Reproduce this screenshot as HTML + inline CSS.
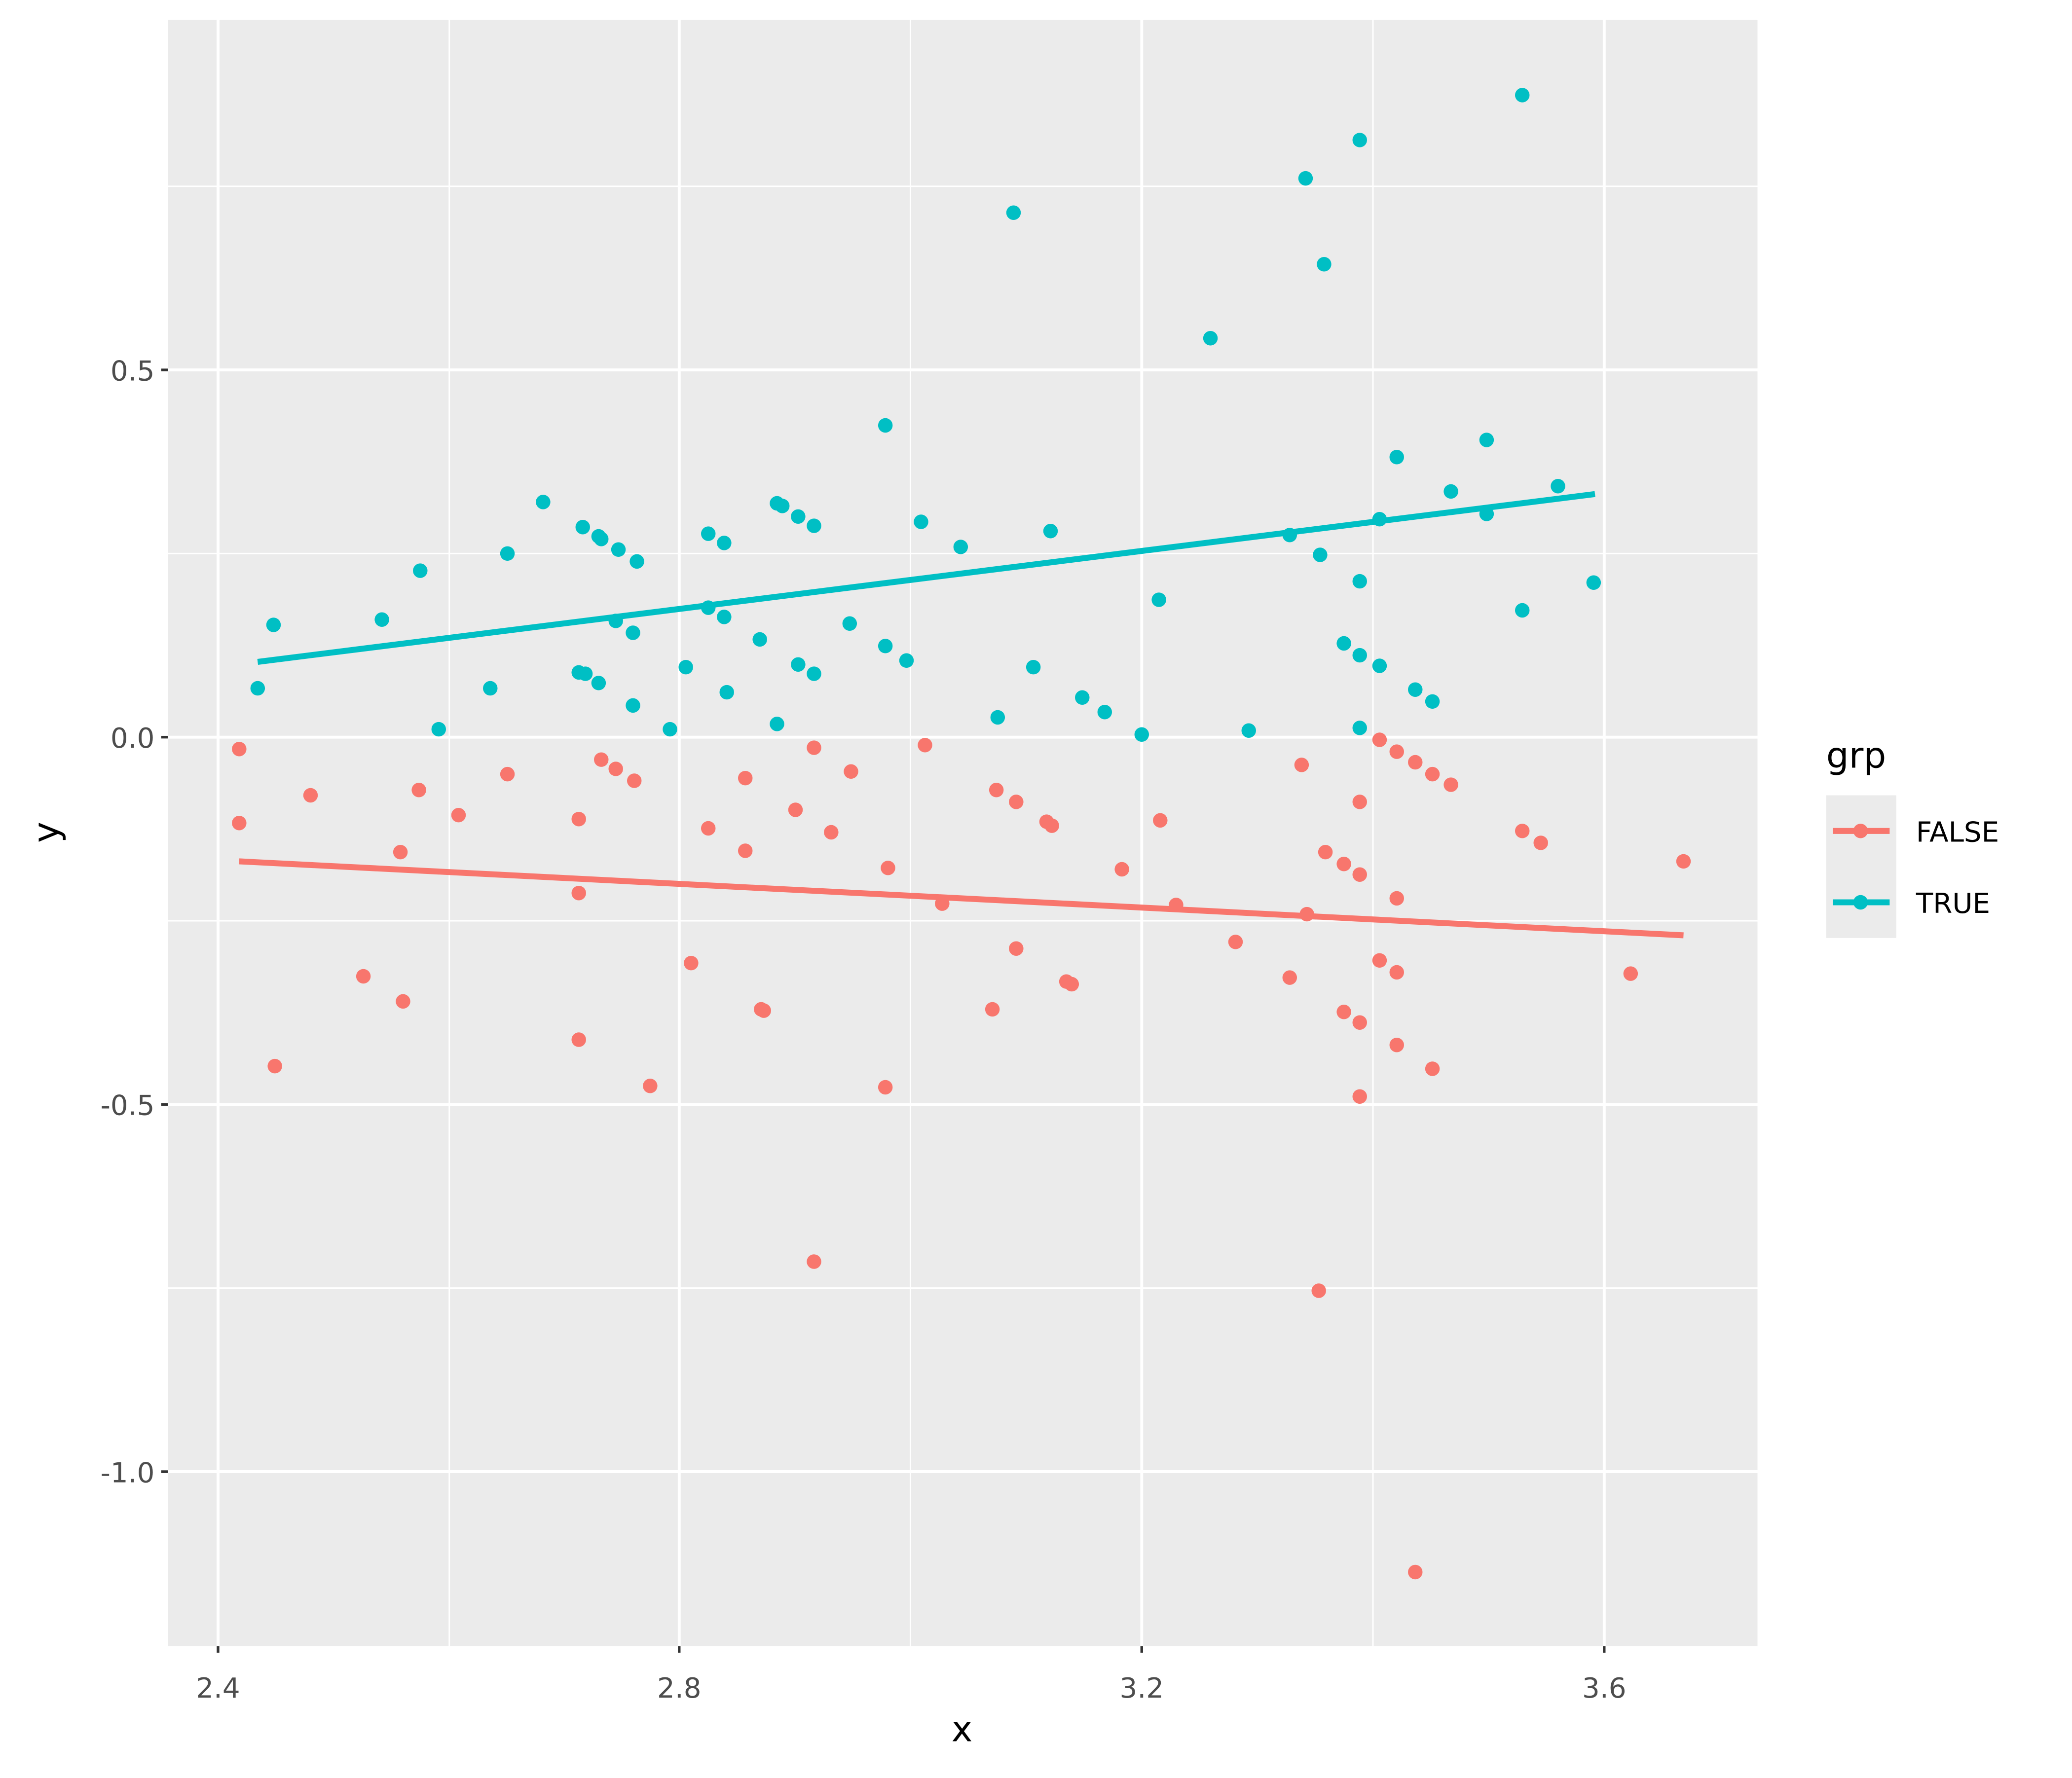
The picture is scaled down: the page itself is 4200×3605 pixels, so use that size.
<!DOCTYPE html>
<html><head><meta charset="utf-8"><style>html,body{margin:0;padding:0;background:#fff}</style></head>
<body>
<svg xmlns="http://www.w3.org/2000/svg" width="4200" height="3600" viewBox="0 0 1568 1344" font-family="DejaVu Sans, Liberation Sans, sans-serif">
<rect width="1568" height="1344" fill="#fff"/>
<rect x="127" y="15" width="1203" height="1231" fill="#ebebeb"/>
<g stroke="#fff" stroke-width="1.1">
<line x1="127" x2="1330" y1="141" y2="141"/><line x1="127" x2="1330" y1="419" y2="419"/><line x1="127" x2="1330" y1="697" y2="697"/><line x1="127" x2="1330" y1="975" y2="975"/>
<line y1="15" y2="1246" x1="340" x2="340"/><line y1="15" y2="1246" x1="689" x2="689"/><line y1="15" y2="1246" x1="1039" x2="1039"/>
</g>
<g stroke="#fff" stroke-width="2.2">
<line x1="127" x2="1330" y1="280" y2="280"/><line x1="127" x2="1330" y1="558" y2="558"/><line x1="127" x2="1330" y1="836" y2="836"/><line x1="127" x2="1330" y1="1114" y2="1114"/>
<line y1="15" y2="1246" x1="165" x2="165"/><line y1="15" y2="1246" x1="514" x2="514"/><line y1="15" y2="1246" x1="864" x2="864"/><line y1="15" y2="1246" x1="1214" x2="1214"/>
</g>
<g fill="#00bfc4">
<circle cx="1152" cy="72" r="5.5"/><circle cx="1029" cy="106" r="5.5"/><circle cx="988" cy="135" r="5.5"/><circle cx="767" cy="161" r="5.5"/><circle cx="1002" cy="200" r="5.5"/><circle cx="916" cy="256" r="5.5"/><circle cx="670" cy="322" r="5.5"/><circle cx="1057" cy="346" r="5.5"/><circle cx="1125" cy="333" r="5.5"/><circle cx="1098" cy="372" r="5.5"/><circle cx="1179" cy="368" r="5.5"/><circle cx="411" cy="380" r="5.5"/><circle cx="588" cy="381" r="5.5"/><circle cx="592" cy="383" r="5.5"/><circle cx="604" cy="391" r="5.5"/><circle cx="616" cy="398" r="5.5"/><circle cx="697" cy="395" r="5.5"/><circle cx="1044" cy="393" r="5.5"/><circle cx="1125" cy="389" r="5.5"/><circle cx="441" cy="399" r="5.5"/><circle cx="453" cy="406" r="5.5"/><circle cx="455" cy="408" r="5.5"/><circle cx="468" cy="416" r="5.5"/><circle cx="482" cy="425" r="5.5"/><circle cx="536" cy="404" r="5.5"/><circle cx="548" cy="411" r="5.5"/><circle cx="727" cy="414" r="5.5"/><circle cx="795" cy="402" r="5.5"/><circle cx="976" cy="405" r="5.5"/><circle cx="999" cy="420" r="5.5"/><circle cx="318" cy="432" r="5.5"/><circle cx="384" cy="419" r="5.5"/><circle cx="1029" cy="440" r="5.5"/><circle cx="1206" cy="441" r="5.5"/><circle cx="877" cy="454" r="5.5"/><circle cx="207" cy="473" r="5.5"/><circle cx="289" cy="469" r="5.5"/><circle cx="466" cy="470" r="5.5"/><circle cx="479" cy="479" r="5.5"/><circle cx="536" cy="460" r="5.5"/><circle cx="548" cy="467" r="5.5"/><circle cx="643" cy="472" r="5.5"/><circle cx="575" cy="484" r="5.5"/><circle cx="670" cy="489" r="5.5"/><circle cx="1152" cy="462" r="5.5"/><circle cx="1017" cy="487" r="5.5"/><circle cx="1029" cy="496" r="5.5"/><circle cx="1044" cy="504" r="5.5"/><circle cx="686" cy="500" r="5.5"/><circle cx="519" cy="505" r="5.5"/><circle cx="604" cy="503" r="5.5"/><circle cx="616" cy="510" r="5.5"/><circle cx="782" cy="505" r="5.5"/><circle cx="438" cy="509" r="5.5"/><circle cx="443" cy="510" r="5.5"/><circle cx="453" cy="517" r="5.5"/><circle cx="195" cy="521" r="5.5"/><circle cx="371" cy="521" r="5.5"/><circle cx="550" cy="524" r="5.5"/><circle cx="1071" cy="522" r="5.5"/><circle cx="1084" cy="531" r="5.5"/><circle cx="819" cy="528" r="5.5"/><circle cx="836" cy="539" r="5.5"/><circle cx="479" cy="534" r="5.5"/><circle cx="755" cy="543" r="5.5"/><circle cx="588" cy="548" r="5.5"/><circle cx="332" cy="552" r="5.5"/><circle cx="507" cy="552" r="5.5"/><circle cx="864" cy="556" r="5.5"/><circle cx="945" cy="553" r="5.5"/><circle cx="1029" cy="551" r="5.5"/>
</g>
<g fill="#f8766d">
<circle cx="181" cy="567" r="5.5"/><circle cx="1044" cy="560" r="5.5"/><circle cx="700" cy="564" r="5.5"/><circle cx="616" cy="566" r="5.5"/><circle cx="1057" cy="569" r="5.5"/><circle cx="455" cy="575" r="5.5"/><circle cx="466" cy="582" r="5.5"/><circle cx="1071" cy="577" r="5.5"/><circle cx="985" cy="579" r="5.5"/><circle cx="384" cy="586" r="5.5"/><circle cx="564" cy="589" r="5.5"/><circle cx="644" cy="584" r="5.5"/><circle cx="480" cy="591" r="5.5"/><circle cx="1084" cy="586" r="5.5"/><circle cx="1098" cy="594" r="5.5"/><circle cx="317" cy="598" r="5.5"/><circle cx="235" cy="602" r="5.5"/><circle cx="1029" cy="607" r="5.5"/><circle cx="754" cy="598" r="5.5"/><circle cx="769" cy="607" r="5.5"/><circle cx="602" cy="613" r="5.5"/><circle cx="347" cy="617" r="5.5"/><circle cx="181" cy="623" r="5.5"/><circle cx="438" cy="620" r="5.5"/><circle cx="878" cy="621" r="5.5"/><circle cx="792" cy="622" r="5.5"/><circle cx="796" cy="625" r="5.5"/><circle cx="536" cy="627" r="5.5"/><circle cx="629" cy="630" r="5.5"/><circle cx="1152" cy="629" r="5.5"/><circle cx="1166" cy="638" r="5.5"/><circle cx="303" cy="645" r="5.5"/><circle cx="564" cy="644" r="5.5"/><circle cx="1003" cy="645" r="5.5"/><circle cx="1017" cy="654" r="5.5"/><circle cx="1029" cy="662" r="5.5"/><circle cx="672" cy="657" r="5.5"/><circle cx="849" cy="658" r="5.5"/><circle cx="1274" cy="652" r="5.5"/><circle cx="438" cy="676" r="5.5"/><circle cx="713" cy="684" r="5.5"/><circle cx="890" cy="685" r="5.5"/><circle cx="1057" cy="680" r="5.5"/><circle cx="989" cy="692" r="5.5"/><circle cx="935" cy="713" r="5.5"/><circle cx="769" cy="718" r="5.5"/><circle cx="523" cy="729" r="5.5"/><circle cx="1044" cy="727" r="5.5"/><circle cx="1057" cy="736" r="5.5"/><circle cx="1234" cy="737" r="5.5"/><circle cx="275" cy="739" r="5.5"/><circle cx="976" cy="740" r="5.5"/><circle cx="807" cy="743" r="5.5"/><circle cx="811" cy="745" r="5.5"/><circle cx="305" cy="758" r="5.5"/><circle cx="576" cy="764" r="5.5"/><circle cx="578" cy="765" r="5.5"/><circle cx="751" cy="764" r="5.5"/><circle cx="1017" cy="766" r="5.5"/><circle cx="1029" cy="774" r="5.5"/><circle cx="438" cy="787" r="5.5"/><circle cx="1057" cy="791" r="5.5"/><circle cx="208" cy="807" r="5.5"/><circle cx="1084" cy="809" r="5.5"/><circle cx="492" cy="822" r="5.5"/><circle cx="670" cy="823" r="5.5"/><circle cx="1029" cy="830" r="5.5"/><circle cx="616" cy="955" r="5.5"/><circle cx="998" cy="977" r="5.5"/><circle cx="1071" cy="1190" r="5.5"/>
</g>
<line x1="181" y1="652" x2="1274" y2="708" stroke="#f8766d" stroke-width="4.5"/>
<line x1="195" y1="501" x2="1207" y2="374" stroke="#00bfc4" stroke-width="4.5"/>
<g stroke="#333" stroke-width="2">
<line x1="122" x2="127" y1="280" y2="280"/><line x1="122" x2="127" y1="558" y2="558"/><line x1="122" x2="127" y1="836" y2="836"/><line x1="122" x2="127" y1="1114" y2="1114"/>
<line y1="1246" y2="1251" x1="165" x2="165"/><line y1="1246" y2="1251" x1="514" x2="514"/><line y1="1246" y2="1251" x1="864" x2="864"/><line y1="1246" y2="1251" x1="1214" x2="1214"/>
</g>
<g fill="#4d4d4d" font-size="21">
<g text-anchor="end"><text x="117" y="288">0.5</text><text x="117" y="566">0.0</text><text x="117" y="844">-0.5</text><text x="117" y="1122">-1.0</text></g>
<g text-anchor="middle"><text x="165" y="1285">2.4</text><text x="514" y="1285">2.8</text><text x="864" y="1285">3.2</text><text x="1214" y="1285">3.6</text></g>
</g>
<text x="728" y="1318" font-size="27" text-anchor="middle">x</text>
<text transform="translate(44,630) rotate(-90)" font-size="27" text-anchor="middle">y</text>
<text x="1382" y="581" font-size="27">grp</text>
<rect x="1382" y="602" width="53" height="108" fill="#ebebeb"/>
<line x1="1387" x2="1430" y1="629" y2="629" stroke="#f8766d" stroke-width="4.5"/><circle cx="1408" cy="629" r="5.5" fill="#f8766d"/>
<line x1="1387" x2="1430" y1="683" y2="683" stroke="#00bfc4" stroke-width="4.5"/><circle cx="1408" cy="683" r="5.5" fill="#00bfc4"/>
<g font-size="21"><text x="1450" y="637">FALSE</text><text x="1450" y="691">TRUE</text></g>
</svg>
</body></html>
